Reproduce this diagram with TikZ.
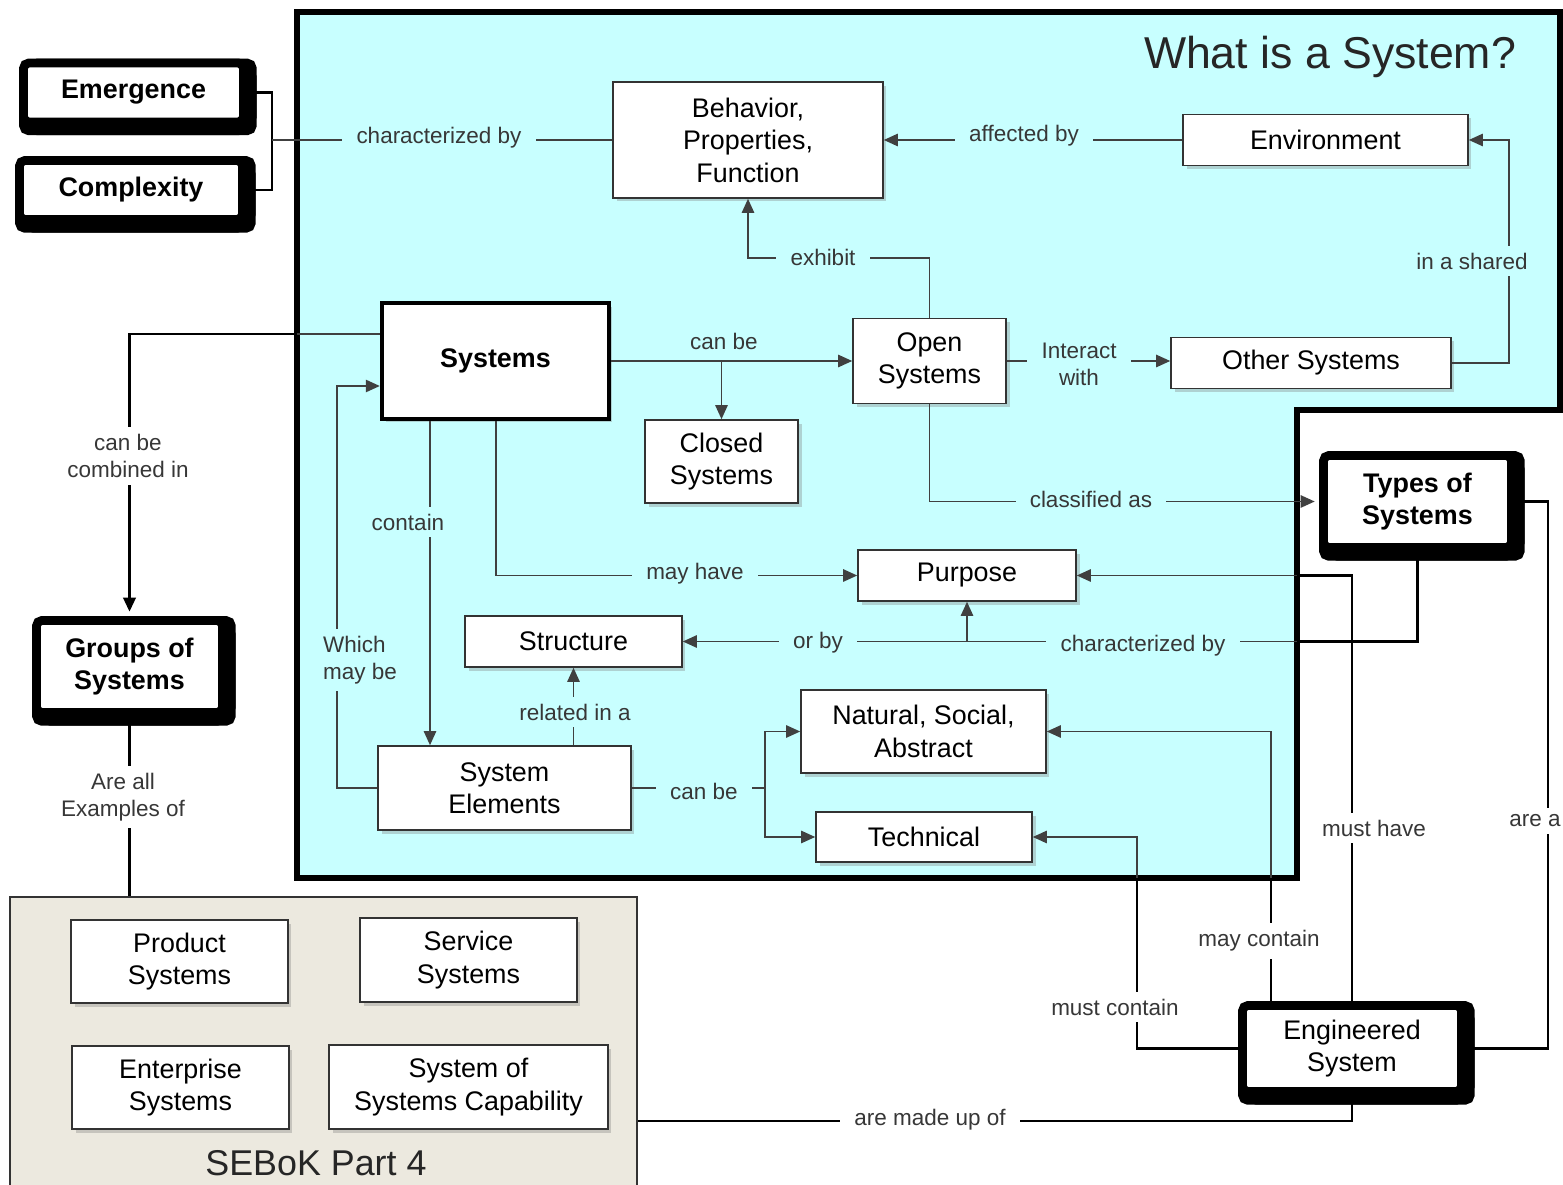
\documentclass[tikz,border=0pt]{standalone}
\usepackage{fontspec}
\setmainfont{Liberation Sans}
\usepackage{xcolor}
\usepackage{tikz}
\usetikzlibrary{arrows.meta, positioning, shadows, calc}

\definecolor{bluebg}{RGB}{200,255,255}
\definecolor{sebokbg}{RGB}{236,233,223}
\definecolor{lbltext}{RGB}{55,55,55}
\newcommand{\boxfont}{\fontsize{15.3}{18.5}\selectfont}
\newcommand{\lblfont}{\fontsize{12.8}{15.4}\selectfont}

\tikzset{
  box/.style={draw=black!80, line width=0.9pt, fill=white, font=\boxfont, align=center, inner sep=0pt,
    drop shadow={opacity=0.35, shadow xshift=2pt, shadow yshift=-2pt}},
  bigbox/.style={draw=black, line width=5pt, rounded corners=3pt, fill=white, font=\boxfont\bfseries, align=center, inner sep=0pt,
    general shadow={fill=black, draw=black, line width=5pt, shadow xshift=5pt, shadow yshift=-5pt},
    general shadow={fill=black, draw=black, line width=5pt, shadow xshift=5pt, shadow yshift=0pt},
    general shadow={fill=black, draw=black, line width=5pt, shadow xshift=0pt, shadow yshift=-5pt}},
  lbl/.style={fill=bluebg, text=lbltext, font=\lblfont, align=center, inner xsep=8pt, inner ysep=4pt},
  lblw/.style={lbl, fill=white},
  conn/.style={draw=black!75, line width=1pt},
  arr/.style={conn, -{Triangle[length=8pt,width=7pt]}},
  outconn/.style={draw=black, line width=1.6pt},
  outarr/.style={outconn, -{Triangle[length=8pt,width=7pt]}},
}

\begin{document}
\begin{tikzpicture}[x=0.02cm, y=-0.02cm]
  \useasboundingbox (0,0) rectangle (1563,1185);

  \path[fill=bluebg, draw=black, line width=3pt] (297,12) -- (1560,12) -- (1560,410) -- (1297,410) -- (1297,878) -- (297,878) -- cycle;
  \node[draw=black!80, line width=1.5pt, fill=sebokbg, minimum width=12.54cm, minimum height=5.86cm, inner sep=0pt] (sebok) at (323.5,1043.5) {};

  \node[font=\fontsize{25.4}{30}\selectfont, text=black!85] (title) at (1330,57) {What is a System?};
  \node[font=\fontsize{20.4}{24}\selectfont, text=black!85] (sebokname) at (316,1163) {SEBoK Part 4};

  \node[bigbox, minimum width=4.4cm, minimum height=1.18cm] (emergence) at (133.5,92.5) {Emergence};
  \node[bigbox, minimum width=4.46cm, minimum height=1.18cm] (complexity) at (131,190) {Complexity};
  \node[bigbox, minimum width=3.72cm, minimum height=1.84cm] (groups) at (129.5,666.5) {Groups of\\Systems};
  \node[bigbox, minimum width=3.76cm, minimum height=1.84cm] (types) at (1417.5,501.5) {Types of\\Systems};
  \node[bigbox, font=\boxfont, minimum width=4.38cm, minimum height=1.72cm] (engineered) at (1352,1048.5) {Engineered\\System};

  \node[box, minimum width=5.4cm, minimum height=2.32cm] (behavior) at (748,140) {Behavior,\\Properties,\\Function};
  \node[box, minimum width=5.7cm, minimum height=1.02cm] (environment) at (1325.5,140) {Environment};
  \node[box, draw=black, line width=2.5pt, font=\boxfont\bfseries, minimum width=4.54cm, minimum height=2.32cm] (systems) at (495.5,361) {Systems};
  \node[box, minimum width=3.06cm, minimum height=1.7cm] (open) at (929.5,361) {Open\\Systems};
  \node[box, minimum width=5.6cm, minimum height=1.02cm] (other) at (1311,363) {Other Systems};
  \node[box, minimum width=3.06cm, minimum height=1.66cm] (closed) at (721.5,461.5) {Closed\\Systems};
  \node[box, minimum width=4.36cm, minimum height=1.02cm] (purpose) at (967,575.5) {Purpose};
  \node[box, minimum width=4.34cm, minimum height=1.02cm] (structure) at (573.5,641.5) {Structure};
  \node[box, minimum width=4.9cm, minimum height=1.66cm] (natural) at (923.5,731.5) {Natural, Social,\\Abstract};
  \node[box, minimum width=5.06cm, minimum height=1.68cm] (elements) at (504.5,788) {System\\Elements};
  \node[box, minimum width=4.32cm, minimum height=1cm] (technical) at (924,837) {Technical};

  \node[box, minimum width=4.34cm, minimum height=1.66cm] (product) at (179.5,961.5) {Product\\Systems};
  \node[box, minimum width=4.34cm, minimum height=1.68cm] (service) at (468.5,960) {Service\\Systems};
  \node[box, minimum width=4.34cm, minimum height=1.66cm] (enterprise) at (180.5,1087.5) {Enterprise\\Systems};
  \node[box, minimum width=5.58cm, minimum height=1.68cm] (sos) at (468.5,1087) {System of\\Systems Capability};

  \coordinate (join) at (272,140);
  \draw[outconn] (emergence.east) -| (join) |- (complexity.east);
  \draw[conn] (join) -- (behavior.west);
  \draw[arr] (environment.west) -- (behavior.east);
  \draw[arr] (open.north) -- (open.north |- 0,258) -| (behavior.south);
  \draw[arr] (other.east) -| (1509,0 |- environment.east) -- (environment.east);
  \draw[arr] (systems.east) -- (open.west);
  \draw[arr] (systems.east -| closed.north) -- (closed.north);
  \draw[arr] (open.east) -- (open.east -| other.west);
  \draw[arr, shorten >=2.5pt] (open.south) |- (types.west);
  \draw[conn] (systems.west |- 0,334) -- (297,334);
  \draw[outarr, shorten >=2.5pt] (297,334) -| (groups.north);
  \draw[arr] (430,0 |- systems.south) -- (430,0 |- elements.north);
  \draw[arr] (496,0 |- systems.south) |- (purpose.west);
  \draw[arr] (elements.west) -| (337,386) -- (systems.west |- 0,386);
  \draw[outconn] (types.south) |- (1297,0 |- structure.east);
  \draw[arr] (1297,0 |- structure.east) -- (structure.east);
  \draw[arr] (purpose.south |- structure.east) -- (purpose.south);
  \draw[arr] (elements.north -| structure.south) -- (structure.south);
  \coordinate (split) at (765,788);
  \draw[conn] (elements.east) -- (split);
  \draw[arr] (split) |- (natural.west);
  \draw[arr] (split) |- (technical.west);
  \draw[outconn] (engineered.north) |- (1297,0 |- purpose.east);
  \draw[arr] (1297,0 |- purpose.east) -- (purpose.east);
  \draw[outconn] (1271,0 |- engineered.north) -- (1271,878);
  \draw[arr] (1271,878) |- (natural.east);
  \draw[outconn] (engineered.west) -| (1137,878);
  \draw[arr] (1137,878) |- (technical.east);
  \draw[outconn] (engineered.east) -| (1548,0 |- types.east) -- (types.east);
  \draw[outconn] (engineered.south) |- (sebok.east |- 0,1121);
  \draw[outconn, line width=2.2pt] (groups.south) -- (groups.south |- sebok.north);

  \node[lbl] (lchar) at (439,138) {characterized by};
  \node[lbl] (laffected) at (1024,136) {affected by};
  \node[lbl] (lexhibit) at (823,257) {exhibit};
  \node[lbl] (lshared) at (1472,261) {in a shared};
  \node[lbl] (lcanbe) at (724,341) {can be};
  \node[lbl] (linteract) at (1079,364) {Interact\\with};
  \node[lbl] (lclassified) at (1091,499) {classified as};
  \node[lblw] (lcombined) at (128,456) {can be\\combined in};
  \node[lbl] (lcontain) at (408,522) {contain};
  \node[lbl] (lmayhave) at (695,574) {may have};
  \node[lbl, align=left] (lwhich) at (360,660) {Which\\may be};
  \node[lbl] (lorby) at (818,643) {or by};
  \node[lbl] (lcharby) at (1143,646) {characterized by};
  \node[lbl] (lrelated) at (575,712) {related in a};
  \node[lbl] (lcanbetwo) at (704,791) {can be};
  \node[lblw] (lmusthave) at (1374,828) {must have};
  \node[lblw] (lmaycontain) at (1259,941) {may contain};
  \node[lblw] (lmustcontain) at (1115,1007) {must contain};
  \node[lblw] (larea) at (1535,821) {are a};
  \node[lblw] (lmadeup) at (930,1120) {are made up of};
  \node[lblw] (lexamples) at (123,797) {Are all\\Examples of};
\end{tikzpicture}
\end{document}
